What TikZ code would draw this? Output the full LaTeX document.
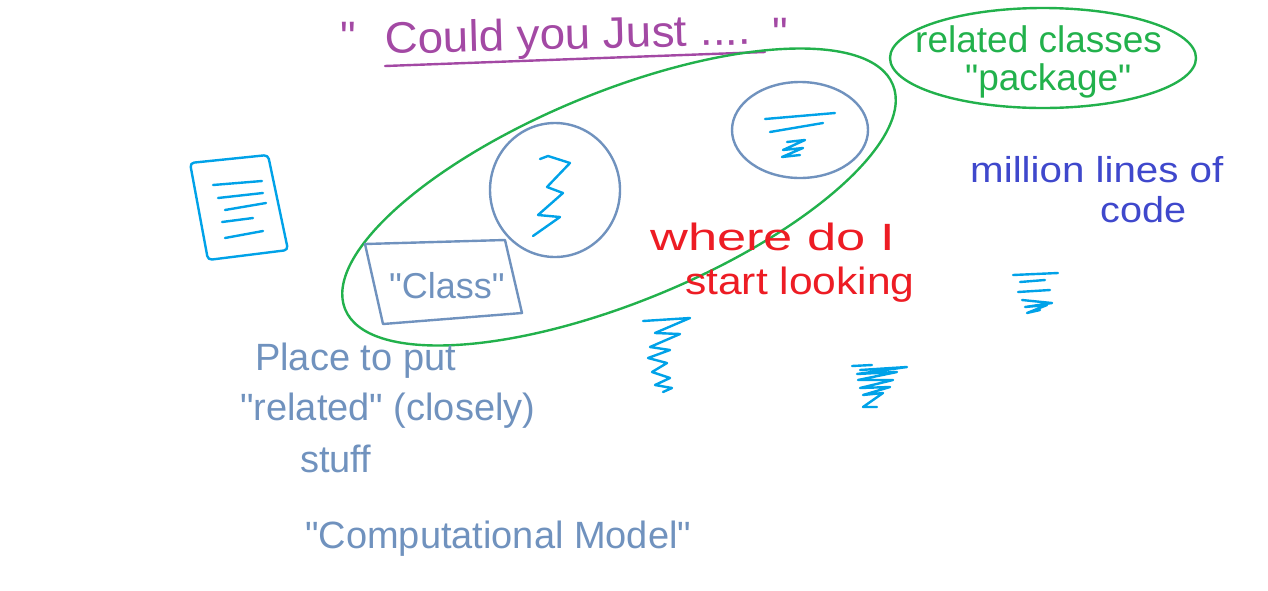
\documentclass[tikz,border=0pt]{standalone}
\usepackage{fontspec}
\usepackage{graphicx}
\setmainfont{Liberation Sans}
\usetikzlibrary{shapes.geometric}
\definecolor{cpurple}{HTML}{A349A4}
\definecolor{cgreen}{HTML}{22B14C}
\definecolor{cslate}{HTML}{7092BE}
\definecolor{ccyan}{HTML}{00A2E8}
\definecolor{cred}{HTML}{ED1C24}
\definecolor{cblue}{HTML}{3F48CC}
\newcommand{\qq}{\textquotedbl}
\begin{document}
\begin{tikzpicture}[x=1pt,y=-1pt,line cap=round,line join=round,
  pen/.style={line width=2.4pt},
  txt/.style={inner sep=0pt,anchor=base west},
  purpletxt/.style={txt,text=cpurple,font=\fontsize{44}{50}\selectfont},
  greentxt/.style={txt,text=cgreen,font=\fontsize{37}{42}\selectfont},
  bluetxt/.style={txt,text=cblue,font=\fontsize{36}{40}\selectfont},
  redtxt/.style={txt,text=cred,font=\fontsize{38}{42}\selectfont},
  slatetxt/.style={txt,text=cslate,font=\fontsize{38}{42}\selectfont},
  scribble/.style={pen,draw=ccyan},
  outline/.style={pen,draw=cslate}]
\useasboundingbox (0,0) rectangle (1268,590);

% top quote
\node[purpletxt] (q1) at (340,52) {\qq};
\node[purpletxt,rotate=1.5] (could) at (385,54) {\scalebox{1.04}[1]{Could you Just ....}};
\node[purpletxt] (q2) at (772,48) {\qq};
\coordinate (ul1) at (385,66);
\coordinate (ul2) at (765,52);
\draw[pen,cpurple] (ul1) -- (ul2);

% big green ellipse
\draw[pen,cgreen,rotate around={22.3:(619,197)}] (619,197) ellipse [x radius=296pt, y radius=105pt];

% package ellipse
\node[pen,draw=cgreen,ellipse,minimum width=306pt,minimum height=100pt,inner sep=0pt] (pkg) at (1043,58) {};
\node[greentxt] (rel) at (915,52) {related classes};
\node[greentxt] (pkgtxt) at (965,90) {\qq package\qq};

% million lines of code
\node[bluetxt] (mil) at (970,182) {\scalebox{1.12}[1]{million lines of}};
\node[bluetxt] (code) at (1100,222) {\scalebox{1.1}[1]{code}};

% where do I start looking
\node[redtxt] (where) at (650,250) {\scalebox{1.38}[1]{where do I}};
\node[redtxt] (start) at (685,294) {\scalebox{1.12}[1]{start looking}};

% circle 1
\draw[outline] (555,190) ellipse [x radius=65pt, y radius=67pt];
\draw[scribble] (540,159) -- (548,156) -- (570,163) -- (547,187) -- (563,193) -- (538,215) -- (560,217) -- (533,236);

% circle 2
\draw[outline] (800,130) ellipse [x radius=68pt, y radius=48pt];
\draw[scribble] (765,119) -- (835,113);
\draw[scribble] (770,132) -- (823,123);
\draw[scribble] (787,142) -- (805,140) -- (783,150) -- (803,148) -- (782,157) -- (800,155);

% Class box
\node[inner sep=0pt,text=cslate,font=\fontsize{36}{40}\selectfont] (cls) at (447,286) {\qq Class\qq};
\draw[outline] (365,244) -- (505,240) -- (522,313) -- (383,324) -- cycle;

% document icon
\draw[pen,ccyan,rounded corners=4pt] (190,163) -- (268,155) -- (288,250) -- (208,260) -- cycle;
\draw[scribble] (213,185) -- (262,181);
\draw[scribble] (218,198) -- (263,193);
\draw[scribble] (225,210) -- (266,203);
\draw[scribble] (222,222) -- (253,218);
\draw[scribble] (225,238) -- (263,231);

% loose scribbles
\draw[scribble] (643,321) -- (690,318) -- (655,333) -- (680,334) -- (650,347) -- (670,350) -- (648,358) -- (667,363) -- (652,372) -- (670,378) -- (655,385) -- (672,388) -- (663,392);
\draw[scribble] (852,366) -- (872,365);
\draw[scribble] (860,370) -- (907,367) -- (857,374) -- (897,372) -- (858,380) -- (893,380) -- (860,388) -- (890,387) -- (863,395) -- (883,393) -- (863,407) -- (877,407);
\draw[scribble] (1013,275) -- (1058,273);
\draw[scribble] (1020,282) -- (1045,280);
\draw[scribble] (1018,292) -- (1050,290);
\draw[scribble] (1022,300) -- (1052,303) -- (1025,307) -- (1047,305) -- (1027,313) -- (1040,310);

% bottom-left notes
\node[slatetxt] (place) at (255,370) {Place to put};
\node[slatetxt] (related) at (240,420) {\qq related\qq{} (closely)};
\node[slatetxt] (stuff) at (300,472) {stuff};
\node[slatetxt] (model) at (305,548) {\qq Computational Model\qq};
\end{tikzpicture}
\end{document}
